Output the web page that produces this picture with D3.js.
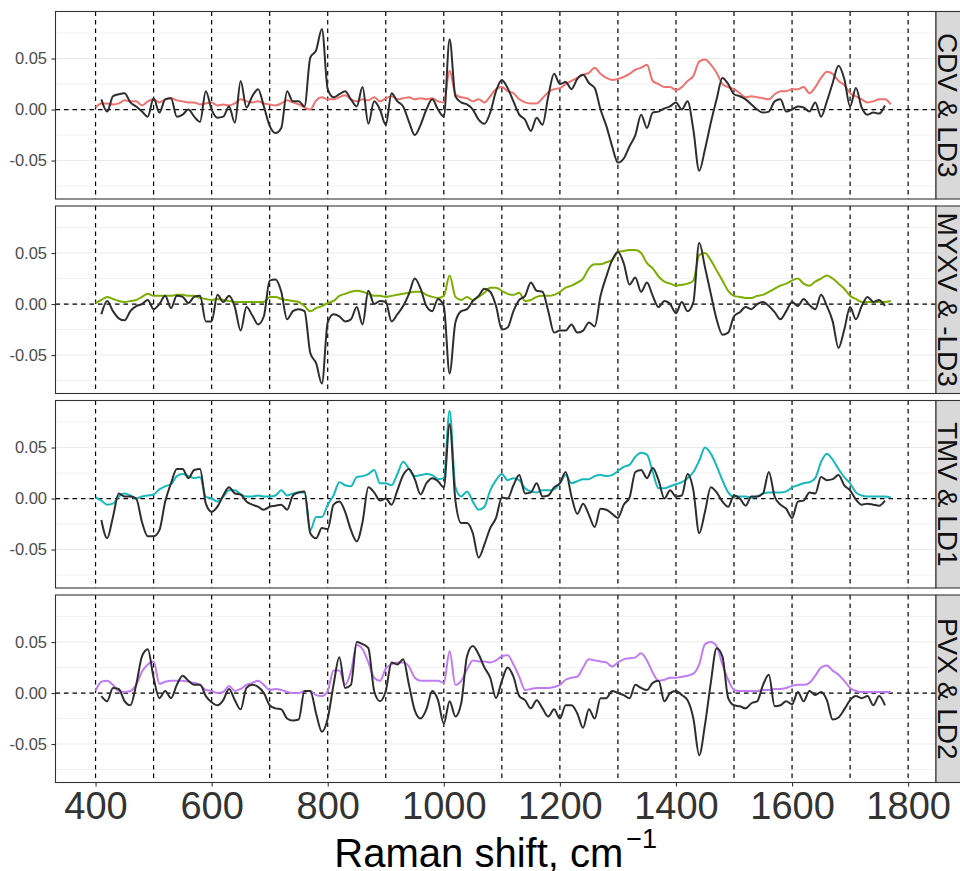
<!DOCTYPE html>
<html>
<head>
<meta charset="utf-8">
<script src="https://cdn.jsdelivr.net/npm/d3@7"></script>
<style>
  body { margin: 0; background: #ffffff; }
  svg { display: block; font-family: "Liberation Sans", Arial, sans-serif; }
</style>
</head>
<body>
<svg width="960" height="871"></svg>
<script>
/* ===============================
   Data (Raman shift grid, cm-1)
   =============================== */
let waveColor = d3.range(400, 1771, 10);   // 400 .. 1770
let waveBlack = d3.range(410, 1761, 10);   // 410 .. 1760

let panelLabels = ["CDV & LD3", "MYXV & -LD3", "TMV & LD1", "PVX & LD2"];
let panelColors = ["#EE736F", "#7CAE00", "#17B8BB", "#C07CF4"];

// coloured spectra (virus)
let cdv = [
  0.002, 0.006, 0.006, 0.005, 0.006, 0.009, 0.008, 0.008, 0.004, 0.008,
  0.010, 0.007, 0.010, 0.011, 0.009, 0.008, 0.007, 0.007, 0.005, 0.006,
  0.007, 0.004, 0.005, 0.004, 0.006, 0.010, 0.008, 0.007, 0.008, 0.006,
  0.005, 0.004, 0.006, 0.009, 0.007, 0.005, 0.002, 0.000, 0.009, 0.012,
  0.010, 0.010, 0.012, 0.014, 0.010, 0.008, 0.010, 0.009, 0.012, 0.008,
  0.011, 0.013, 0.010, 0.011, 0.012, 0.010, 0.011, 0.010, 0.011, 0.008,
  0.007, 0.038, 0.015, 0.012, 0.011, 0.008, 0.010, 0.007, 0.013, 0.020,
  0.022, 0.018, 0.016, 0.010, 0.007, 0.006, 0.006, 0.011, 0.017, 0.020,
  0.021, 0.025, 0.028, 0.031, 0.034, 0.036, 0.041, 0.035, 0.031, 0.029,
  0.030, 0.032, 0.035, 0.039, 0.041, 0.044, 0.028, 0.025, 0.022, 0.022,
  0.019, 0.022, 0.028, 0.033, 0.047, 0.049, 0.044, 0.036, 0.025, 0.022,
  0.020, 0.016, 0.012, 0.013, 0.012, 0.011, 0.010, 0.015, 0.018, 0.018,
  0.020, 0.020, 0.022, 0.016, 0.022, 0.031, 0.037, 0.035, 0.028, 0.024,
  0.016, 0.013, 0.010, 0.007, 0.008, 0.010, 0.010, 0.005
];

let myxv = [
  0.001, 0.004, 0.007, 0.005, 0.003, 0.002, 0.003, 0.004, 0.007, 0.010,
  0.008, 0.008, 0.008, 0.008, 0.009, 0.009, 0.008, 0.008, 0.006, 0.005,
  0.004, 0.005, 0.004, 0.003, 0.002, 0.002, 0.002, 0.002, 0.002, 0.002,
  0.007, 0.007, 0.005, 0.004, 0.003, 0.002, -0.002, -0.007, -0.004, -0.002,
  0.001, 0.003, 0.008, 0.010, 0.012, 0.013, 0.012, 0.010, 0.008, 0.008,
  0.007, 0.008, 0.009, 0.010, 0.011, 0.012, 0.012, 0.009, 0.007, 0.006,
  0.008, 0.028, 0.007, 0.004, 0.007, 0.004, 0.007, 0.011, 0.016, 0.016,
  0.013, 0.010, 0.009, 0.011, 0.003, 0.004, 0.007, 0.008, 0.008, 0.009,
  0.012, 0.016, 0.018, 0.021, 0.025, 0.035, 0.039, 0.039, 0.041, 0.043,
  0.051, 0.052, 0.053, 0.053, 0.050, 0.040, 0.035, 0.027, 0.022, 0.020,
  0.018, 0.019, 0.020, 0.023, 0.048, 0.050, 0.043, 0.033, 0.023, 0.013,
  0.008, 0.007, 0.006, 0.006, 0.008, 0.009, 0.012, 0.015, 0.018, 0.020,
  0.023, 0.025, 0.020, 0.018, 0.022, 0.025, 0.028, 0.025, 0.020, 0.015,
  0.008, 0.005, 0.002, 0.002, 0.002, 0.002, 0.002, 0.003
];

let tmv = [
  0.001, -0.002, -0.006, -0.005, 0.002, 0.005, 0.003, 0.000, 0.002, 0.003,
  0.004, 0.009, 0.012, 0.014, 0.022, 0.024, 0.022, 0.020, 0.021, 0.002,
  0.000, -0.003, 0.002, 0.008, 0.008, 0.004, 0.002, 0.002, 0.003, 0.002,
  0.002, 0.003, 0.008, 0.003, 0.005, 0.006, 0.006, -0.031, -0.018, -0.018,
  -0.006, 0.003, 0.016, 0.013, 0.012, 0.021, 0.022, 0.024, 0.028, 0.015,
  0.015, 0.013, 0.024, 0.036, 0.029, 0.022, 0.023, 0.024, 0.023, 0.019,
  0.020, 0.086, 0.011, 0.002, 0.007, -0.003, -0.011, -0.008, 0.008, 0.018,
  0.024, 0.018, 0.020, 0.018, 0.010, 0.007, 0.006, 0.008, 0.008, 0.009,
  0.015, 0.023, 0.015, 0.017, 0.019, 0.019, 0.022, 0.023, 0.022, 0.023,
  0.027, 0.031, 0.033, 0.041, 0.045, 0.043, 0.026, 0.010, 0.010, 0.012,
  0.014, 0.016, 0.020, 0.026, 0.037, 0.050, 0.044, 0.032, 0.018, 0.006,
  0.002, 0.002, 0.002, 0.001, 0.002, 0.005, 0.006, 0.006, 0.006, 0.007,
  0.011, 0.013, 0.015, 0.016, 0.020, 0.036, 0.044, 0.038, 0.029, 0.021,
  0.015, 0.006, 0.003, 0.002, 0.002, 0.002, 0.002, 0.001
];

let pvx = [
  0.002, 0.011, 0.012, 0.008, 0.002, 0.001, 0.002, 0.008, 0.021, 0.028,
  0.031, 0.009, 0.011, 0.012, 0.012, 0.012, 0.011, 0.010, 0.008, 0.003,
  0.002, 0.000, 0.001, 0.007, 0.002, 0.004, 0.008, 0.010, 0.012, 0.008,
  0.003, 0.004, 0.003, 0.001, 0.000, 0.000, 0.002, 0.002, -0.002, -0.003,
  0.002, 0.022, 0.022, 0.008, 0.021, 0.047, 0.043, 0.030, 0.015, 0.012,
  0.024, 0.028, 0.030, 0.030, 0.026, 0.015, 0.012, 0.012, 0.012, 0.012,
  0.010, 0.041, 0.008, 0.012, 0.023, 0.032, 0.031, 0.031, 0.030, 0.032,
  0.036, 0.037, 0.028, 0.016, 0.003, 0.004, 0.005, 0.005, 0.005, 0.006,
  0.008, 0.013, 0.015, 0.016, 0.025, 0.033, 0.032, 0.031, 0.030, 0.026,
  0.030, 0.033, 0.034, 0.035, 0.039, 0.032, 0.020, 0.012, 0.013, 0.015,
  0.015, 0.016, 0.017, 0.019, 0.028, 0.048, 0.050, 0.046, 0.028, 0.013,
  0.003, 0.002, 0.002, 0.002, 0.002, 0.003, 0.003, 0.004, 0.004, 0.005,
  0.007, 0.008, 0.008, 0.010, 0.017, 0.025, 0.027, 0.022, 0.018, 0.012,
  0.005, 0.002, 0.001, 0.001, 0.001, 0.001, 0.001, 0.001
];

// black spectra (LD loadings)
let ld3 = [
  0.010, -0.002, 0.013, 0.015, 0.016, 0.007, 0.003, -0.002, -0.007,
  0.011, -0.003, 0.010, 0.011, -0.007, -0.005, 0.000, -0.007, -0.012, 0.018,
  0.000, -0.008, -0.007, 0.003, -0.013, 0.028, 0.002, 0.013, 0.020, 0.003,
  -0.016, -0.023, -0.018, 0.018, 0.008, 0.008, 0.003, 0.051, 0.058, 0.079,
  0.020, 0.012, 0.015, 0.018, 0.010, 0.003, 0.022, -0.014, 0.008, 0.000,
  -0.015, 0.016, 0.008, 0.003, -0.012, -0.025, -0.015, 0.000, 0.010, 0.000,
  -0.007, 0.069, 0.013, 0.007, 0.005, 0.000, -0.010, -0.014, -0.003, 0.018,
  0.029, 0.021, 0.008, -0.005, -0.010, -0.021, -0.008, -0.015, 0.013, 0.035,
  0.025, 0.027, 0.020, 0.030, 0.034, 0.026, 0.021, 0.000, -0.016, -0.036,
  -0.052, -0.048, -0.036, -0.025, -0.005, -0.018, -0.003, -0.002, 0.001, 0.003,
  0.007, 0.000, 0.008, -0.020, -0.060, -0.039, -0.013, 0.010, 0.031, 0.025,
  0.015, 0.013, 0.010, 0.005, 0.000, -0.003, -0.002, 0.008, 0.010, -0.002,
  0.000, 0.003, 0.002, -0.002, 0.007, -0.007, 0.008, 0.026, 0.043, 0.030,
  0.003, 0.021, 0.002, -0.005, -0.003, -0.004, 0.004
];

let negLd3 = [
  -0.010, 0.003, -0.007, -0.014, -0.016, -0.007, -0.002, 0.000, 0.004,
  -0.005, 0.000, 0.008, -0.004, 0.008, 0.007, 0.001, 0.007, 0.008, -0.017,
  -0.017, 0.009, 0.002, 0.008, -0.003, -0.026, -0.003, -0.011, -0.020, -0.012,
  0.023, 0.024, 0.012, -0.015, -0.007, -0.005, -0.007, -0.048, -0.058, -0.078,
  -0.018, -0.010, -0.012, -0.017, -0.015, -0.003, -0.020, 0.013, 0.000, 0.003,
  0.002, -0.017, -0.010, -0.002, 0.010, 0.025, 0.015, -0.002, -0.007, 0.005,
  -0.002, -0.068, -0.018, -0.007, -0.005, 0.003, 0.008, 0.015, 0.012, -0.002,
  -0.025, -0.023, -0.007, 0.004, 0.008, 0.021, 0.013, 0.012, -0.007, -0.028,
  -0.026, -0.026, -0.020, -0.028, -0.026, -0.018, -0.022, 0.008, 0.027, 0.043,
  0.051, 0.040, 0.019, 0.026, 0.012, 0.021, 0.008, -0.003, 0.003, 0.000,
  -0.009, 0.002, -0.007, 0.002, 0.060, 0.036, 0.010, -0.015, -0.030, -0.028,
  -0.012, -0.008, -0.003, -0.005, 0.000, 0.002, -0.002, -0.008, -0.015, -0.007,
  0.002, -0.002, 0.005, -0.001, -0.005, 0.009, -0.002, -0.017, -0.043, -0.025,
  -0.003, -0.015, -0.002, 0.007, 0.002, 0.004, -0.002
];

let ld1 = [
  -0.021, -0.039, -0.018, 0.005, 0.002, 0.002, 0.000, -0.023, -0.037,
  -0.037, -0.031, -0.003, 0.015, 0.029, 0.029, 0.020, 0.028, 0.029, -0.005,
  -0.013, -0.008, 0.003, 0.011, 0.005, 0.004, -0.003, -0.006, -0.008, -0.011,
  -0.008, -0.007, -0.006, -0.011, 0.003, 0.006, 0.007, -0.034, -0.039, -0.029,
  -0.030, -0.006, -0.003, -0.013, -0.031, -0.042, -0.023, 0.011, 0.006, -0.002,
  0.000, -0.006, 0.008, 0.023, 0.029, 0.019, 0.004, 0.015, 0.020, 0.017,
  0.011, 0.073, -0.002, -0.024, -0.024, -0.034, -0.058, -0.045, -0.029, -0.019,
  0.001, 0.000, 0.013, 0.023, 0.005, 0.006, 0.015, 0.002, 0.003, 0.011,
  0.015, 0.026, 0.002, -0.015, -0.005, -0.016, -0.028, -0.010, -0.011, -0.015,
  -0.019, -0.006, 0.001, 0.026, 0.028, 0.020, 0.030, 0.018, 0.000, 0.008,
  0.002, 0.003, 0.024, 0.008, -0.034, -0.013, 0.011, 0.006, -0.003, -0.008,
  0.003, 0.000, -0.007, 0.002, 0.002, 0.005, 0.026, 0.002, -0.006, -0.010,
  -0.019, -0.003, -0.002, 0.006, 0.005, 0.021, 0.018, 0.019, 0.023, 0.013,
  0.008, -0.001, -0.006, -0.005, -0.006, -0.007, -0.002
];

let ld2 = [
  -0.003, -0.008, 0.005, 0.004, -0.008, -0.012, 0.008, 0.036, 0.043,
  0.015, -0.005, 0.002, -0.005, 0.008, 0.017, 0.012, 0.008, 0.008, -0.003,
  -0.009, -0.012, -0.007, 0.004, -0.007, -0.016, 0.005, 0.008, 0.006, 0.000,
  -0.012, -0.015, -0.016, -0.025, -0.027, -0.026, 0.002, 0.002, -0.020, -0.038,
  -0.025, 0.008, 0.035, 0.005, 0.008, 0.050, 0.048, 0.044, 0.002, -0.008,
  0.002, 0.030, 0.028, 0.033, 0.008, -0.017, -0.025, -0.016, 0.002, -0.007,
  -0.030, -0.008, -0.023, -0.010, 0.036, 0.046, 0.038, 0.025, 0.015, -0.005,
  0.012, 0.025, 0.016, -0.003, -0.007, -0.015, -0.007, -0.015, -0.023, -0.016,
  -0.025, -0.012, -0.012, -0.020, -0.034, -0.016, -0.025, -0.005, -0.005, 0.002,
  0.000, -0.002, -0.005, 0.008, 0.005, 0.003, 0.010, 0.012, -0.008, 0.000,
  0.002, -0.002, -0.007, -0.025, -0.061, -0.031, 0.010, 0.044, 0.036, -0.005,
  -0.012, -0.013, -0.015, -0.010, -0.008, 0.008, 0.018, -0.013, -0.012, -0.008,
  -0.011, 0.001, -0.008, 0.002, -0.002, 0.001, -0.007, -0.026, -0.024, -0.016,
  -0.007, -0.003, -0.005, -0.003, -0.012, -0.003, -0.012
];

let virusSeries = [cdv, myxv, tmv, pvx];
let ldSeries = [ld3, negLd3, ld1, ld2];

let xTicks = [400, 600, 800, 1000, 1200, 1400, 1600, 1800];
let yTicks = [-0.05, 0.00, 0.05];
let yMinor = [-0.075, -0.025, 0.025, 0.075];
let dashedX = d3.range(400, 1801, 100);

/* ===============================
   Layout + scales
   =============================== */
let svg = d3.select("svg");

let panelLeft = 55.5;
let panelRight = 936;
let panelTop = 11.5;
let panelH = 187.5;
let panelStep = 194.5;
let stripW = 40;

let x = d3.scaleLinear()
    .domain([331, 1848])
    .range([panelLeft, panelRight]);

let y = d3.scaleLinear()
    .domain([-0.0877, 0.0961])
    .range([panelH, 0]);

let line = d3.line()
    .curve(d3.curveMonotoneX)
    .x(d => x(d[0]))
    .y(d => y(d[1]));

/* ===============================
   Panels
   =============================== */
panelLabels.forEach(function (label, i) {
    let g = svg.append("g")
        .attr("transform", "translate(0," + (panelTop + i * panelStep) + ")");

    // background
    g.append("rect")
        .attr("x", panelLeft)
        .attr("y", 0)
        .attr("width", panelRight - panelLeft)
        .attr("height", panelH)
        .attr("fill", "#ffffff");

    // grid
    g.selectAll(".minor")
        .data(yMinor)
        .enter().append("line")
        .attr("x1", panelLeft)
        .attr("x2", panelRight)
        .attr("y1", d => y(d))
        .attr("y2", d => y(d))
        .attr("stroke", "#EBEBEB")
        .attr("stroke-width", 0.6);

    g.selectAll(".major")
        .data(yTicks)
        .enter().append("line")
        .attr("x1", panelLeft)
        .attr("x2", panelRight)
        .attr("y1", d => y(d))
        .attr("y2", d => y(d))
        .attr("stroke", "#EBEBEB")
        .attr("stroke-width", 1.1);

    // dashed reference lines
    g.selectAll(".vdash")
        .data(dashedX)
        .enter().append("line")
        .attr("x1", d => x(d))
        .attr("x2", d => x(d))
        .attr("y1", 0)
        .attr("y2", panelH)
        .attr("stroke", "#000000")
        .attr("stroke-width", 1.2)
        .attr("stroke-dasharray", "4.5,4");

    g.append("line")
        .attr("x1", panelLeft)
        .attr("x2", panelRight)
        .attr("y1", y(0))
        .attr("y2", y(0))
        .attr("stroke", "#000000")
        .attr("stroke-width", 1.2)
        .attr("stroke-dasharray", "4.5,4");

    // spectra
    g.append("path")
        .datum(d3.zip(waveColor, virusSeries[i]))
        .attr("d", line)
        .attr("fill", "none")
        .attr("stroke", panelColors[i])
        .attr("stroke-width", 2)
        .attr("stroke-linejoin", "round");

    g.append("path")
        .datum(d3.zip(waveBlack, ldSeries[i]))
        .attr("d", line)
        .attr("fill", "none")
        .attr("stroke", "#2E2E2E")
        .attr("stroke-width", 2)
        .attr("stroke-linejoin", "round");

    // border
    g.append("rect")
        .attr("x", panelLeft)
        .attr("y", 0)
        .attr("width", panelRight - panelLeft)
        .attr("height", panelH)
        .attr("fill", "none")
        .attr("stroke", "#333333")
        .attr("stroke-width", 1.1);

    // y axis
    let yAxis = g.append("g")
        .attr("transform", "translate(" + panelLeft + ",0)")
        .call(d3.axisLeft(y)
            .tickValues(yTicks)
            .tickFormat(d => d.toFixed(2))
            .tickSize(4)
            .tickPadding(4.5));
    yAxis.select(".domain").remove();
    yAxis.selectAll("line").attr("stroke", "#333333").attr("stroke-width", 1.1);
    yAxis.selectAll("text")
        .attr("fill", "#4D4D4D")
        .style("font-size", "16.5px")
        .style("font-family", "'Liberation Sans', Arial, sans-serif");

    // strip on the right (cut by the page edge, as in the source)
    g.append("rect")
        .attr("x", panelRight)
        .attr("y", 0)
        .attr("width", stripW)
        .attr("height", panelH)
        .attr("fill", "#D9D9D9")
        .attr("stroke", "#333333")
        .attr("stroke-width", 1.1);

    g.append("text")
        .attr("transform", "translate(" + (panelRight + 2) + "," + (panelH / 2) + ") rotate(90)")
        .attr("text-anchor", "middle")
        .attr("fill", "#111111")
        .style("font-size", "28px")
        .text(label);

    // x axis on the last panel only
    if (i === panelLabels.length - 1) {
        let xAxis = g.append("g")
            .attr("transform", "translate(0," + panelH + ")")
            .call(d3.axisBottom(x)
                .tickValues(xTicks)
                .tickFormat(d3.format("d"))
                .tickSize(4)
                .tickPadding(5.5));
        xAxis.select(".domain").remove();
        xAxis.selectAll("line").attr("stroke", "#333333").attr("stroke-width", 1.1);
        xAxis.selectAll("text")
            .attr("fill", "#333333")
            .style("font-size", "38px")
            .style("font-family", "'Liberation Sans', Arial, sans-serif");
    }
});

/* ===============================
   Axis title
   =============================== */
let title = svg.append("text")
    .attr("x", (panelLeft + panelRight) / 2)
    .attr("y", 867)
    .attr("text-anchor", "middle")
    .attr("fill", "#000000")
    .style("font-size", "40px");

title.append("tspan").text("Raman shift, cm");
title.append("tspan")
    .attr("dy", -19)
    .attr("dx", 3)
    .style("font-size", "27px")
    .text("\u22121");
</script>
</body>
</html>
